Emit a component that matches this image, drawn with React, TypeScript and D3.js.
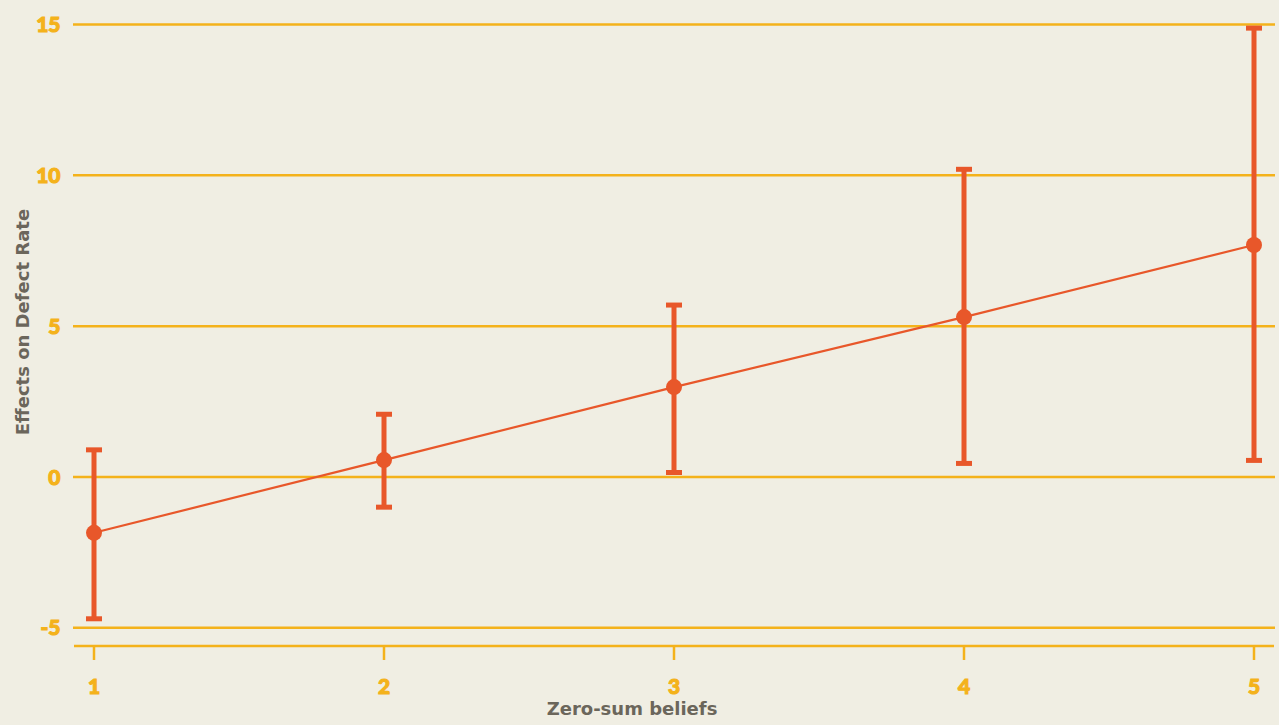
import { useEffect, useRef } from "react";
import * as d3 from "d3";

const beliefs = [1, 2, 3, 4, 5];
const effect = [-1.85, 0.56, 2.98, 5.3, 7.69];
const upper = [0.9, 2.08, 5.7, 10.2, 14.88];
const lower = [-4.7, -1.0, 0.15, 0.45, 0.55];
const yTicks = [-5, 0, 5, 10, 15];

const W = 1279;
const H = 725;
const yellow = "#f4b21b";
const orange = "#e8572a";
const grey = "#6b665b";

const App = () => {
  const ref = useRef<SVGSVGElement | null>(null);

  useEffect(() => {
    if (!ref.current) return;
    const svg = d3.select(ref.current);
    svg.selectAll("*").remove();

    const x = d3.scaleLinear().domain([1, 5]).range([94, 1254]);
    const y = d3.scaleLinear().domain([0, 15]).range([477, 24.5]);

    svg.append("rect").attr("width", W).attr("height", H).attr("fill", "#f0eee3");

    // horizontal grid
    svg.append("g")
      .selectAll("line")
      .data(yTicks)
      .join("line")
      .attr("x1", 73)
      .attr("x2", 1275)
      .attr("y1", d => y(d))
      .attr("y2", d => y(d))
      .attr("stroke", yellow)
      .attr("stroke-width", 2.5);

    // tick labels get a thin stroke so they read as heavy as the original
    svg.append("g")
      .selectAll("text")
      .data(yTicks)
      .join("text")
      .attr("x", 60.5)
      .attr("y", d => y(d) + 7.5)
      .attr("text-anchor", "end")
      .attr("fill", yellow)
      .attr("stroke", yellow)
      .attr("stroke-width", 1.1)
      .attr("font-family", "Lato, sans-serif")
      .attr("font-weight", 900)
      .attr("font-size", 21)
      .text(d => d);

    // x axis
    const xAxis = svg.append("g").attr("transform", "translate(0,646)");
    xAxis.append("line")
      .attr("x1", 74).attr("x2", 1274)
      .attr("stroke", yellow).attr("stroke-width", 2.5);
    xAxis.selectAll("line.tick")
      .data(beliefs)
      .join("line")
      .attr("class", "tick")
      .attr("x1", d => x(d)).attr("x2", d => x(d))
      .attr("y1", 0).attr("y2", 14)
      .attr("stroke", yellow).attr("stroke-width", 2.5);
    xAxis.selectAll("text")
      .data(beliefs)
      .join("text")
      .attr("x", d => x(d))
      .attr("y", 48)
      .attr("text-anchor", "middle")
      .attr("fill", yellow)
      .attr("stroke", yellow)
      .attr("stroke-width", 1.1)
      .attr("font-family", "Lato, sans-serif")
      .attr("font-weight", 900)
      .attr("font-size", 21)
      .text(d => d);

    // titles
    svg.append("text")
      .attr("x", 632).attr("y", 715)
      .attr("text-anchor", "middle")
      .attr("fill", grey)
      .attr("font-family", "'DejaVu Sans', sans-serif")
      .attr("font-weight", 700)
      .attr("font-size", 18)
      .text("Zero-sum beliefs");
    svg.append("text")
      .attr("transform", "translate(29,322) rotate(-90)")
      .attr("text-anchor", "middle")
      .attr("fill", grey)
      .attr("font-family", "'DejaVu Sans', sans-serif")
      .attr("font-weight", 700)
      .attr("font-size", 18)
      .text("Effects on Defect Rate");

    // fit line
    const line = d3.line<number>().x((_, i) => x(beliefs[i])).y(d => y(d));
    svg.append("path")
      .attr("d", line(effect))
      .attr("fill", "none")
      .attr("stroke", orange)
      .attr("stroke-width", 2.2);

    // error bars
    const bars = svg.append("g").selectAll("g").data(beliefs).join("g");
    bars.append("line")
      .attr("x1", d => x(d)).attr("x2", d => x(d))
      .attr("y1", (_, i) => y(upper[i])).attr("y2", (_, i) => y(lower[i]))
      .attr("stroke", orange).attr("stroke-width", 5);
    bars.append("line")
      .attr("x1", d => x(d) - 8).attr("x2", d => x(d) + 8)
      .attr("y1", (_, i) => y(upper[i])).attr("y2", (_, i) => y(upper[i]))
      .attr("stroke", orange).attr("stroke-width", 5);
    bars.append("line")
      .attr("x1", d => x(d) - 8).attr("x2", d => x(d) + 8)
      .attr("y1", (_, i) => y(lower[i])).attr("y2", (_, i) => y(lower[i]))
      .attr("stroke", orange).attr("stroke-width", 5);
    bars.append("circle")
      .attr("cx", d => x(d))
      .attr("cy", (_, i) => y(effect[i]))
      .attr("r", 8)
      .attr("fill", orange);
  }, []);

  return (
    <svg
      ref={ref}
      width={W}
      height={H}
      style={{ position: "fixed", top: 0, left: 0, display: "block" }}
    />
  );
};

export default App;
